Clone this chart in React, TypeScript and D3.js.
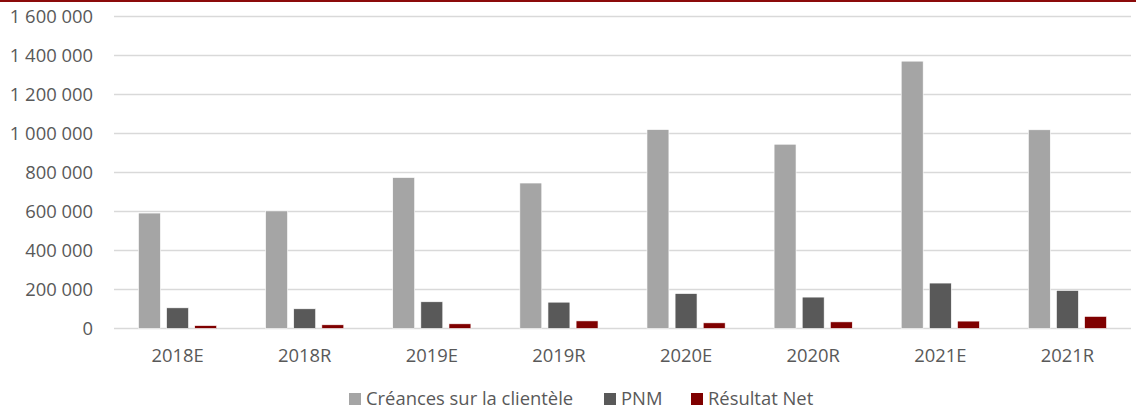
import * as d3 from 'd3';

// chart data
const categories = ['2018E', '2018R', '2019E', '2019R', '2020E', '2020R', '2021E', '2021R'];
const seriesNames = ['Créances sur la clientèle', 'PNM', 'Résultat Net'];
const creances = [592000, 603000, 774000, 746000, 1020000, 945000, 1371000, 1019000];
const pnm = [106000, 101000, 137000, 135000, 179000, 161000, 233000, 195000];
const resultatNet = [15000, 19000, 24000, 39000, 29000, 34000, 38000, 62000];
const yTicks = [0, 200000, 400000, 600000, 800000, 1000000, 1200000, 1400000, 1600000];
const colors = ['#A5A5A5', '#595959', '#7F0000'];

const width = 1136;
const height = 409;
const font = '"Open Sans", sans-serif';
const fontSize = 18.4;

const fmt = (v: number) => d3.format(',')(v).replace(/,/g, ' ');

const App = () => {
    const margin = { top: 16.5, right: 5, bottom: 80.5, left: 114 };
    const values = [creances, pnm, resultatNet];

    // x scale for the categories
    const x0 = d3.scaleBand()
        .domain(categories)
        .range([margin.left, width - margin.right])
        .paddingInner(0)
        .paddingOuter(0);

    // group width is about 61% of the band
    const groupW = x0.bandwidth() * 0.615;
    const x1 = d3.scaleBand()
        .domain(seriesNames)
        .range([0, groupW])
        .paddingInner(0.22)
        .paddingOuter(0);

    const y = d3.scaleLinear()
        .domain([0, 1600000])
        .range([height - margin.bottom, margin.top]);

    // legend layout
    const legendItems = [
        { name: seriesNames[0], x: 349 },
        { name: seriesNames[1], x: 604 },
        { name: seriesNames[2], x: 691 },
    ];

    return (
        <svg width={width} height={height}
            style={{ position: 'absolute', left: 0, top: 0, background: 'white' }}>
            {/* dark red line on top */}
            <line x1={0} x2={width} y1={1} y2={1} stroke="#8B0A0A" strokeWidth={2} />

            {/* grid lines + y labels */}
            {yTicks.map(t => (
                <g key={t}>
                    <line x1={margin.left} x2={width - margin.right} y1={y(t)} y2={y(t)}
                        stroke="#D9D9D9" strokeWidth={1.4} />
                    <text x={93} y={y(t)} dy="0.36em" textAnchor="end"
                        fontFamily={font} fontSize={fontSize} fill="#595959">{fmt(t)}</text>
                </g>
            ))}

            {/* bars */}
            {categories.map((c, i) => {
                const gx = x0(c)! + (x0.bandwidth() - groupW) / 2;
                return (
                    <g key={c} transform={`translate(${gx},0)`}>
                        {seriesNames.map((s, j) => (
                            <rect key={s}
                                x={x1(s)}
                                y={y(values[j][i])}
                                width={x1.bandwidth()}
                                height={y(0) - y(values[j][i])}
                                fill={colors[j]}
                                stroke="#FFFFFF"
                                strokeWidth={0.6} />
                        ))}
                    </g>
                );
            })}

            {/* x labels */}
            {categories.map(c => (
                <text key={c} x={x0(c)! + x0.bandwidth() / 2} y={362}
                    textAnchor="middle" fontFamily={font} fontSize={fontSize} fill="#595959">{c}</text>
            ))}

            {/* legend */}
            {legendItems.map((d, i) => (
                <g key={d.name}>
                    <rect x={d.x} y={393} width={12} height={12} fill={colors[i]} />
                    <text x={d.x + 17} y={405} fontFamily={font} fontSize={fontSize} fill="#595959">{d.name}</text>
                </g>
            ))}
        </svg>
    );
};

export default App;
